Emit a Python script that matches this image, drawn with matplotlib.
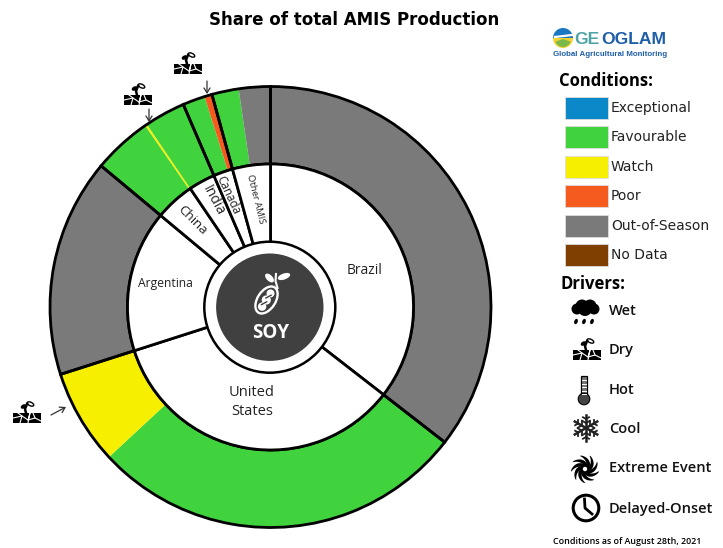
import numpy as np
import matplotlib
matplotlib.use("Agg")
import matplotlib.pyplot as plt
from matplotlib.patches import Circle, Rectangle, Ellipse, Wedge, Polygon

# ---------- data (share of total AMIS production, %) ----------
countries = ["Brazil", "United\nStates", "Argentina", "China", "India", "Canada", "Other AMIS"]
country_shares = [35.5, 34.55, 16.0, 4.47, 3.0, 2.19, 4.28]
condition_shares = [35.5, 27.58, 6.97, 16.0, 4.32, 0.15, 3.0, 1.64, 0.55, 1.97, 2.31]
condition_names = ["Out-of-Season", "Favourable", "Watch", "Out-of-Season", "Favourable", "Watch",
                   "Favourable", "Favourable", "Poor", "Favourable", "Out-of-Season"]
# outer ring dividers: China and India are not separated there
divider_shares = [35.5, 34.55, 16.0, 7.47, 2.19, 4.28]
legend_names = ["Exceptional", "Favourable", "Watch", "Poor", "Out-of-Season", "No Data"]
legend_colors = ["#0A88C8", "#41D33D", "#F7EF00", "#F55A1F", "#7A7A7A", "#7F3F00"]
driver_names = ["Wet", "Dry", "Hot", "Cool", "Extreme Event", "Delayed-Onset"]

palette = dict(zip(legend_names, legend_colors))
W, H = 723, 548
INK = "#222222"

fig = plt.figure(figsize=(W / 100, H / 100), dpi=100)
ax = fig.add_axes([0, 0, 1, 1])
Y = lambda y: H - y  # layout positions are measured from the top

cx, cy = 270.5, Y(307)
R_OUT, R_MID, R_IN = 220.5, 143, 60
pie_kw = dict(startangle=90, counterclock=False, center=(cx, cy))

ax.pie(condition_shares, colors=[palette[n] for n in condition_names], radius=R_OUT,
       wedgeprops=dict(width=R_OUT - R_MID, linewidth=0), **pie_kw)
ax.pie(divider_shares, colors=["none"] * len(divider_shares), radius=R_OUT,
       wedgeprops=dict(width=R_OUT - R_MID, edgecolor="black", linewidth=2.0, facecolor="none"), **pie_kw)
ax.pie(country_shares, colors=["white"] * len(country_shares), radius=R_MID,
       wedgeprops=dict(width=R_MID - R_IN, edgecolor="black", linewidth=2.0), **pie_kw)

# Hub
hx, hy = 269.8, Y(307.2)
ax.add_patch(Circle((hx, hy), 65.5, fc="white", ec="black", lw=1.8, zorder=5))
ax.add_patch(Circle((hx, hy), 53.7, fc="#404040", ec="none", zorder=6))
ax.text(hx + 0.5, Y(333), "SOY", color="white", ha="center", va="center", fontsize=13.5,
        fontweight="bold", family="Open Sans", zorder=8)
# bean and sprout
bean_c = (266.5, Y(300))
ax.add_patch(Ellipse(bean_c, 18, 30, angle=-33, fc="none", ec="white", lw=1.7, zorder=7))
for dx, dy, r in [(-4.4, -6.6, 4.2), (-0.2, 0, 4.6), (4.0, 6.6, 4.0)]:
    ax.add_patch(Circle((bean_c[0] + dx, bean_c[1] + dy), r, fc="white", ec="none", zorder=7))
for dx, dy in [(-2.4, -3.2), (2.0, 3.4)]:
    ax.plot([bean_c[0] + dx - 2.6, bean_c[0] + dx + 2.6], [bean_c[1] + dy - 1.4, bean_c[1] + dy + 1.4],
            color="#404040", lw=1.0, zorder=7.5)
ax.plot([276, 275.5, 277.5], [Y(274), Y(281), Y(288)], color="white", lw=1.5, zorder=7)
ax.add_patch(Ellipse((284, Y(276.5)), 13, 6, angle=20, fc="white", ec="none", zorder=7))
ax.add_patch(Ellipse((269.5, Y(278)), 11, 6, angle=-45, fc="white", ec="none", zorder=7))

# Ring labels
label_pos = [(365, 271, 0, 10.0), (252, 402, 0, 10.5), (165, 284, 0, 8.7), (192, 220, -45, 9.6),
             (213.5, 201, -62, 10.0), (228.5, 195, -65, 8.4), (256, 199, -76, 6.8)]
for name, (x, y, rot, fs) in zip(countries, label_pos):
    ax.text(x, Y(y), name, ha="center", va="center", rotation=rot, rotation_mode="anchor",
            fontsize=fs, family="Open Sans", color=INK, linespacing=1.3, zorder=4)

ax.text(354, Y(20), "Share of total AMIS Production", ha="center", va="center", fontsize=12,
        fontweight="bold", family="DejaVu Sans", color="black")


# ---------- driver icons ----------
def dry_icon(x, y, s=1.0):
    y0 = Y(y)
    ax.add_patch(Rectangle((x - 14 * s, y0 - 8 * s), 28 * s, 10 * s, fc="black", ec="none", zorder=9))
    for xs, ys in [((-14, -5, 1, 8, 14), (-3, -1, -5, -3, -6)),
                   ((-9, -5, -7), (2, -1, -8)), ((1, 3, 1), (-5, 2, -8)), ((8, 6), (-3, 2))]:
        ax.plot(x + np.array(xs) * s, y0 + np.array(ys) * s, color="white", lw=0.8, zorder=10)
    ax.plot(x + np.array([-1, -2, 0]) * s, y0 + np.array([2, 6, 11]) * s, color="black", lw=1.8, zorder=9)
    ax.add_patch(Ellipse((x + 3.5 * s, y0 + 11 * s), 7 * s, 3.5 * s, angle=-25, fc="none", ec="black", lw=1.0, zorder=9))
    ax.add_patch(Ellipse((x - 3.5 * s, y0 + 8.5 * s), 6 * s, 4 * s, angle=30, fc="black", ec="none", zorder=9))


def wet_icon(x, y):
    y0 = Y(y)
    for dx, dy, r in [(-8, 3, 5.5), (-3, 6, 6.5), (5, 6, 6.5), (9, 3, 5.5), (0, 3, 7)]:
        ax.add_patch(Circle((x + dx, y0 + dy), r, fc="black", ec="none", zorder=9))
    for dx in (-8, 0, 8):
        ax.add_patch(Ellipse((x + dx - 1, y0 - 9.5), 3.5, 5.5, angle=-20, fc="black", ec="none", zorder=9))


def hot_icon(x, y):
    y0 = Y(y)
    ax.add_patch(Rectangle((x - 3.2, y0 - 8), 6.4, 22, fc="#777777", ec="black", lw=0.9, zorder=9))
    ax.add_patch(Circle((x, y0 - 9), 5.8, fc="#444444", ec="black", lw=0.8, zorder=9))
    for k in range(5):
        ax.plot([x - 2.5, x + 1.5], [y0 + 10 - 3.5 * k] * 2, color="white", lw=0.7, zorder=10)


def cool_icon(x, y):
    y0 = Y(y)
    for a in np.deg2rad(np.arange(0, 180, 60) + 90):
        ux, uy = np.cos(a), np.sin(a)
        ax.plot([x - 13 * ux, x + 13 * ux], [y0 - 13 * uy, y0 + 13 * uy], color="#222222", lw=1.8, zorder=9)
    for a in np.deg2rad(np.arange(0, 360, 60) + 90):
        for d, side in [(5, 4.5), (9, 3.5)]:
            px, py = x + d * np.cos(a), y0 + d * np.sin(a)
            for sgn in (1, -1):
                b = a + sgn * np.pi / 3
                ax.plot([px, px + side * np.cos(b)], [py, py + side * np.sin(b)], color="#222222", lw=1.3, zorder=9)


def extreme_icon(x, y):
    y0 = Y(y)
    ax.add_patch(Circle((x, y0), 4.5, fc="black", ec="none", zorder=9))
    ax.add_patch(Circle((x, y0), 2.2, fc="white", ec="none", zorder=10))
    t = np.linspace(0, 1, 16)
    for a0 in np.deg2rad(np.arange(0, 360, 40)):
        r = 3.5 + 10.5 * t
        a = a0 + 1.2 * t
        half = 0.42 * (1 - t) + 0.05
        xs = np.r_[x + r * np.cos(a + half), (x + r * np.cos(a - half))[::-1]]
        ys = np.r_[y0 + r * np.sin(a + half), (y0 + r * np.sin(a - half))[::-1]]
        ax.add_patch(Polygon(np.c_[xs, ys], fc="black", ec="none", zorder=9))


def clock_icon(x, y):
    y0 = Y(y)
    ax.add_patch(Circle((x, y0), 12.8, fc="white", ec="black", lw=2.2, zorder=9))
    ax.plot([x - 1.5, x - 1, x + 6], [y0 + 9, y0, y0 - 6], color="black", lw=2.0, zorder=10)


# arrows and icons on the chart
for x, y in [(188, 66), (138, 97), (27, 415)]:
    dry_icon(x, y)
for (x0, y0), (x1, y1) in [((207, 81), (207, 94)), ((149, 109), (149, 122)), ((51, 415), (66, 407))]:
    ax.annotate("", xy=(x1, Y(y1)), xytext=(x0, Y(y0)), zorder=9,
                arrowprops=dict(arrowstyle="->,head_length=0.35,head_width=0.22", color="#333333", lw=0.9,
                                shrinkA=0, shrinkB=0))

# ---------- logo ----------
gx, gy = 563, Y(38)
ax.add_patch(Wedge((gx, gy), 10, 0, 180, fc="#1C77C3", ec="none"))
ax.add_patch(Wedge((gx, gy), 10, 180, 360, fc="#F2D22E", ec="none"))
ax.add_patch(Wedge((gx, gy - 1), 8, 200, 340, fc="#7DB84A", ec="none"))
ax.plot([gx - 8, gx + 9], [gy + 1, gy + 3], color="white", lw=1.6)
ax.text(574, Y(39), "GE", color="#4FA3A5", fontsize=12.6, fontweight="bold", family="Liberation Sans",
        ha="left", va="center")
ax.text(601, Y(39), "OGLAM", color="#1F5FA8", fontsize=12.6, fontweight="bold", family="Liberation Sans",
        ha="left", va="center")
ax.text(553, Y(54), "Global Agricultural Monitoring", color="#1F5FA8", fontsize=5.65, fontweight="bold",
        family="Liberation Sans", ha="left", va="center")

# ---------- legend ----------
ax.text(559, Y(81), "Conditions:", fontsize=12, fontweight="bold", family="Open Sans",
        ha="left", va="center", color="black")
patch_tops = [97, 126, 156, 185, 215, 244]
for name, col, top in zip(legend_names, legend_colors, patch_tops):
    ax.add_patch(Rectangle((565, Y(top + 22)), 43, 22, fc=col, ec="#DDDDDD", lw=0.6))
    ax.text(611, Y(top + 11), name, fontsize=10, family="DejaVu Sans", ha="left", va="center", color=INK)

ax.text(560, Y(284), "Drivers:", fontsize=12, fontweight="bold", family="Open Sans",
        ha="left", va="center", color="black")
driver_y = [311, 350, 390, 429, 468, 509]
for name, y in zip(driver_names, driver_y):
    ax.text(609, Y(y), name, fontsize=10.5, fontweight="semibold", family="Open Sans", ha="left", va="center",
            color="#111111")
wet_icon(585, 312)
dry_icon(587, 352)
hot_icon(584, 390)
cool_icon(586, 428)
extreme_icon(585, 469)
clock_icon(586, 508)

ax.text(553, Y(541), "Conditions as of August 28th, 2021", fontsize=6.4, fontweight="semibold", family="Open Sans",
        ha="left", va="center", color="black")

ax.set_xlim(0, W)
ax.set_ylim(0, H)
ax.set_aspect("auto")
ax.axis("off")
fig.savefig("out.png", dpi=100, facecolor="white")
